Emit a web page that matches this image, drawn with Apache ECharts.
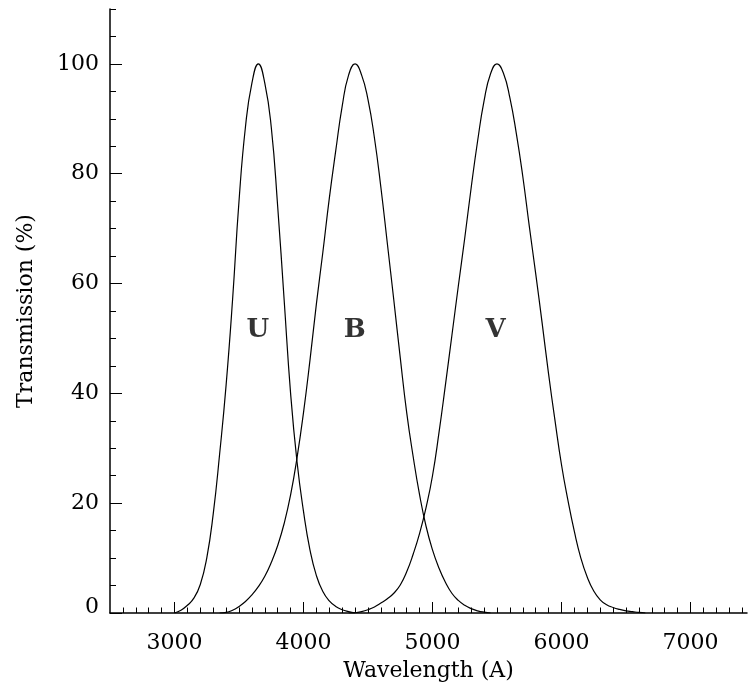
<!DOCTYPE html>
<html>
<head>
<meta charset="utf-8">
<script src="https://cdn.jsdelivr.net/npm/echarts@6/dist/echarts.min.js"></script>
<style>
html,body{margin:0;padding:0;background:#fff;}
#chart{width:748px;height:688px;}
</style>
</head>
<body>
<div id="chart"></div>
<script>
// ---- Data ----
var uWave  = [3000,3050,3100,3150,3200,3250,3300,3350,3400,3450,3500,3550,3600,3650,3700,3750,3800,3850,3900,3950,4000,4050,4100,4150,4200,4250,4300,4350,4400];
var uTrans = [0,0.5,1.4,2.7,5.2,10,18,29,41.5,57,75,88.5,96.5,100,96.5,88.5,74,57,40,27.5,18.5,11.5,6.8,3.9,2.2,1.2,0.6,0.25,0];

var bWave  = [3350,3400,3450,3500,3550,3600,3650,3700,3750,3800,3850,3900,3950,4000,4050,4100,4150,4200,4250,4300,4350,4400,4450,4500,4550,4600,4650,4700,4750,4800,4850,4900,4950,5000,5050,5100,5150,5200,5250,5300,5350,5400,5450];
var bTrans = [0,0.1,0.5,1.2,2.1,3.3,4.8,6.7,9.2,12.3,16.3,21.5,28.3,36.5,46,56.3,65.7,75.5,84.2,92.3,98,100,98,93.5,86.5,77.5,67.3,57,46.5,36.5,28.5,21.5,15.8,11.5,8.2,5.6,3.6,2.3,1.4,0.8,0.4,0.15,0];

var vWave  = [4350,4400,4450,4500,4550,4600,4650,4700,4750,4800,4850,4900,4950,5000,5050,5100,5150,5200,5250,5300,5350,5400,5450,5500,5550,5600,5650,5700,5750,5800,5850,5900,5950,6000,6050,6100,6150,6200,6250,6300,6350,6400,6450,6500,6550,6600,6650];
var vTrans = [0,0.05,0.25,0.6,1.1,1.8,2.6,3.6,5.1,7.5,10.7,14.5,19.2,25,32.8,41.5,50.5,59.5,68.3,77.5,86,93.3,98.2,100,98.3,93.8,87.3,79.5,70.5,61.8,52.8,43.5,35,27,20.5,14.8,10,6.5,4,2.4,1.5,1,0.65,0.4,0.25,0.1,0];

var bandNames = ['U','B','V'];
var bandLabelX = [3646, 4398, 5490];
var bandLabelY = [51.5, 51.5, 51.5];

var xMajorTicks = [3000,4000,5000,6000,7000];
var yMajorTicks = [0,20,40,60,80,100];
var xMinorStep = 100, yMinorStep = 5;

var xTitle = 'Wavelength (A)';
var yTitle = 'Transmission (%)';

// ---- Build ----
function pairs(xs, ys){ var o=[]; for(var i=0;i<xs.length;i++) o.push([xs[i], ys[i]]); return o; }
var xMin = 2500, xMax = 7438, yMin = 0, yMax = 110;
var xMinor = []; for (var x = xMin + xMinorStep; x <= xMax; x += xMinorStep) xMinor.push(x);
var yMinor = []; for (var y = yMin + yMinorStep; y <= yMax; y += yMinorStep) yMinor.push(y);

var FONT = 'DejaVu Serif';
var chart = echarts.init(document.getElementById('chart'), null, {renderer:'canvas'});
var lineStyle = {color:'#000', width:1.2};
var labelData = [];
for (var i=0;i<bandNames.length;i++) labelData.push([bandLabelX[i], bandLabelY[i], bandNames[i]]);

chart.setOption({
  animation:false,
  backgroundColor:'#fff',
  grid:{left:110, right:1, top:9, bottom:75, containLabel:false},
  xAxis:[
    {type:'value', min:xMin, max:xMax, position:'bottom',
     axisLine:{show:true, lineStyle:{color:'#000', width:1.5}},
     axisTick:{show:true, inside:true, length:11, customValues:xMajorTicks, lineStyle:{color:'#000', width:1}},
     axisLabel:{show:true, customValues:xMajorTicks, margin:19, color:'#000', fontFamily:FONT, fontSize:22,
       formatter:function(v){ return String(v); }},
     splitLine:{show:false},
     name:xTitle, nameLocation:'middle', nameGap:47,
     nameTextStyle:{color:'#000', fontFamily:FONT, fontSize:22}},
    {type:'value', min:xMin, max:xMax, position:'bottom',
     axisLine:{show:false},
     axisTick:{show:true, inside:true, length:5.5, customValues:xMinor, lineStyle:{color:'#000', width:1}},
     axisLabel:{show:false}, splitLine:{show:false}}
  ],
  yAxis:[
    {type:'value', min:yMin, max:yMax, position:'left',
     axisLine:{show:true, lineStyle:{color:'#000', width:1.5}},
     axisTick:{show:true, inside:true, length:12, customValues:yMajorTicks, lineStyle:{color:'#000', width:1}},
     axisLabel:{show:true, customValues:yMajorTicks, margin:11, color:'#000', fontFamily:FONT, fontSize:22,
       formatter:function(v){ return v===0 ? '{z|0}' : String(v); },
       rich:{z:{fontFamily:FONT, fontSize:22, color:'#000', padding:[0,0,12,0]}}},
     splitLine:{show:false},
     name:yTitle, nameLocation:'middle', nameGap:73, nameRotate:90,
     nameTextStyle:{color:'#000', fontFamily:FONT, fontSize:22}},
    {type:'value', min:yMin, max:yMax, position:'left',
     axisLine:{show:false},
     axisTick:{show:true, inside:true, length:6, customValues:yMinor, lineStyle:{color:'#000', width:1}},
     axisLabel:{show:false}, splitLine:{show:false}}
  ],
  series:[
    {type:'line', name:'U', data:pairs(uWave,uTrans), showSymbol:false, smooth:0.5, lineStyle:lineStyle, xAxisIndex:0, yAxisIndex:0},
    {type:'line', name:'B', data:pairs(bWave,bTrans), showSymbol:false, smooth:0.5, lineStyle:lineStyle, xAxisIndex:0, yAxisIndex:0},
    {type:'line', name:'V', data:pairs(vWave,vTrans), showSymbol:false, smooth:0.5, lineStyle:lineStyle, xAxisIndex:0, yAxisIndex:0},
    {type:'scatter', data:labelData, symbolSize:0, xAxisIndex:0, yAxisIndex:0,
     label:{show:true, position:'inside', formatter:function(p){return p.data[2];},
       color:'#000', fontFamily:FONT, fontWeight:'bold', fontSize:26}}
  ]
});
</script>
</body>
</html>
